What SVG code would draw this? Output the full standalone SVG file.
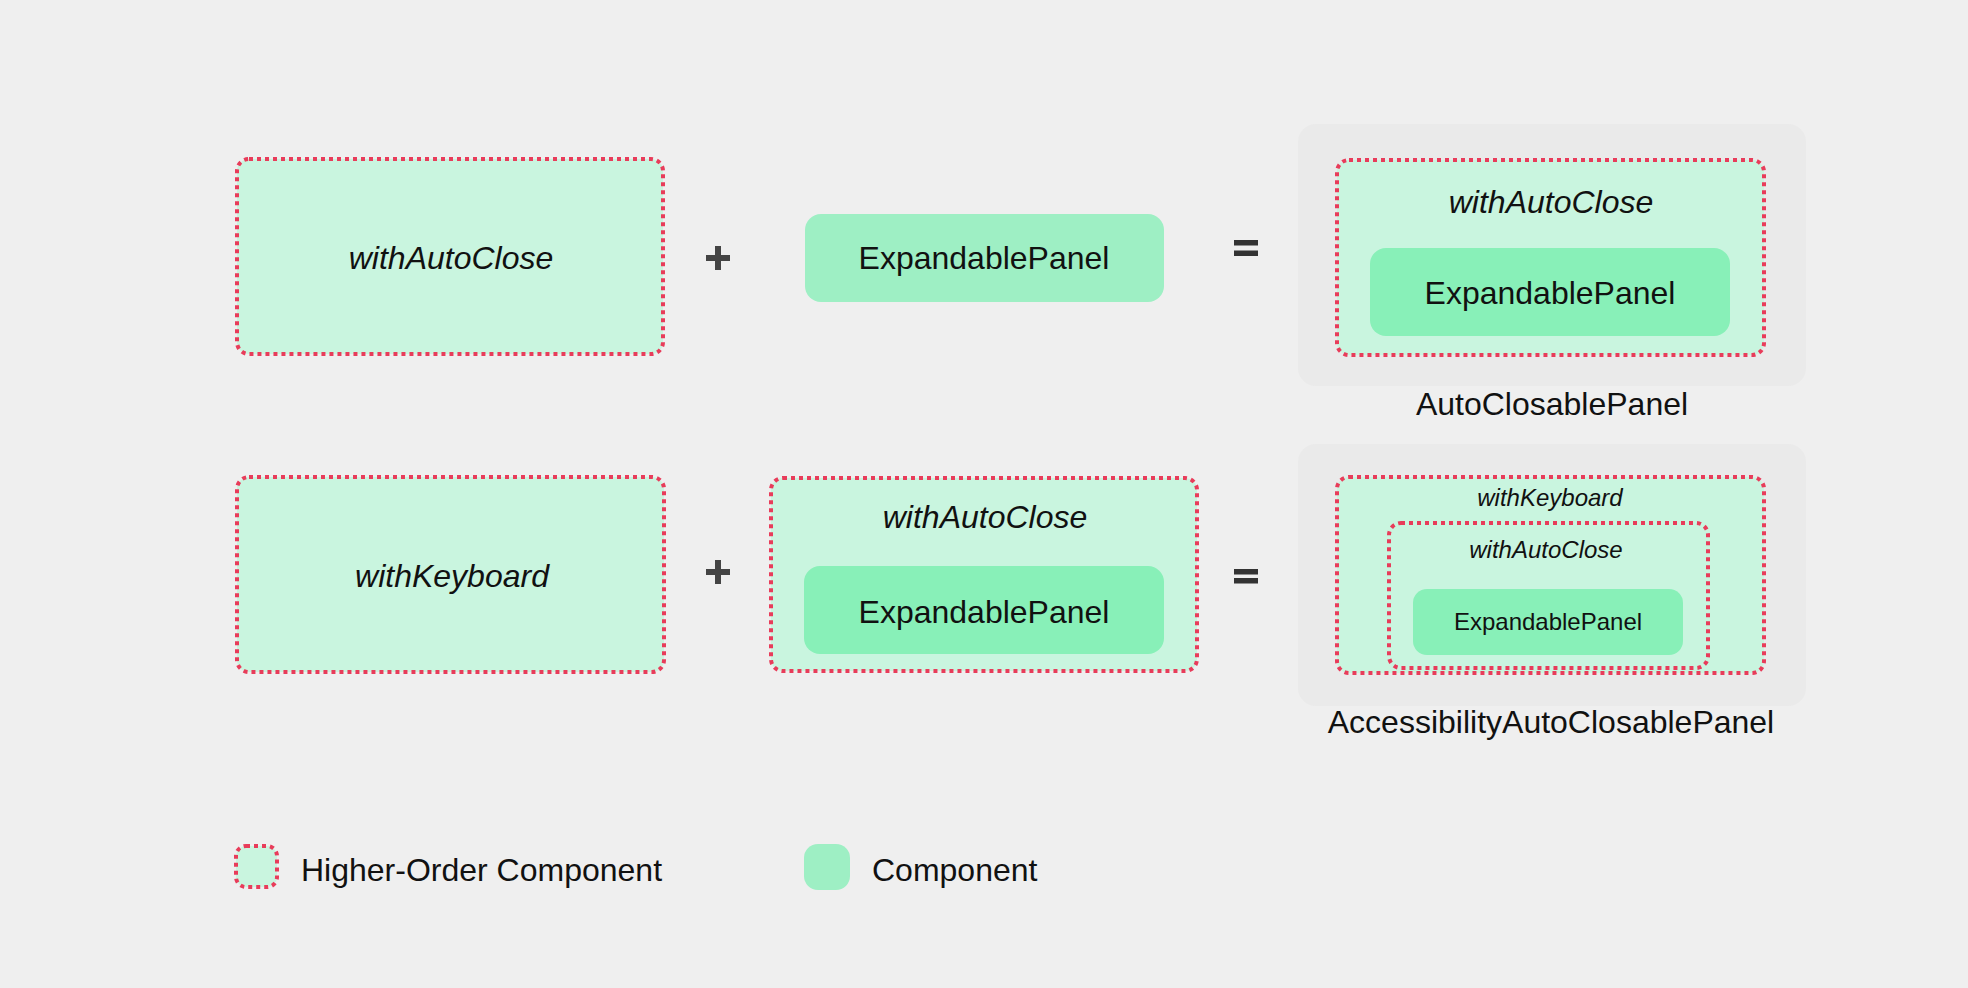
<svg xmlns="http://www.w3.org/2000/svg" width="1968" height="988" viewBox="0 0 1968 988">
<style>
.hoc{fill:#C9F5DF;stroke:#E83C5A;stroke-width:4;stroke-dasharray:4 4}
.comp{fill:#9EEFC4}
.comp2{fill:#88F0B8}
.cont{fill:#EAEAEA}
.t{font-family:"Liberation Sans",Arial,sans-serif;fill:#111;text-anchor:middle}
.i{font-style:italic}
.b{font-size:32px}
.s{font-size:24px}
.op{fill:#444}
.eq{fill:#333}
</style>
<rect width="1968" height="988" fill="#EFEFEF"/>
<g id="hoc-withAutoClose">
<rect class="hoc" x="237" y="159" width="426" height="195" rx="12"/>
<text class="t i b" x="451" y="269">withAutoClose</text>
</g>
<g id="plus-1"><rect class="op" x="706" y="255" width="24" height="6"/><rect class="op" x="715" y="246" width="6" height="24"/></g>
<g id="comp-ExpandablePanel">
<rect class="comp" x="805" y="214" width="359" height="88" rx="16"/>
<text class="t b" x="984" y="269">ExpandablePanel</text>
</g>
<g id="equals-1"><rect class="eq" x="1234" y="240" width="24" height="5.5"/><rect class="eq" x="1234" y="250.5" width="24" height="5.5"/></g>
<g id="result-AutoClosablePanel">
<rect class="cont" x="1298" y="124" width="508" height="262" rx="18"/>
<rect class="hoc" x="1337" y="160" width="427" height="195" rx="12"/>
<text class="t i b" x="1551" y="213">withAutoClose</text>
<rect class="comp2" x="1370" y="248" width="360" height="88" rx="16"/>
<text class="t b" x="1550" y="304">ExpandablePanel</text>
<text class="t b" x="1552" y="415">AutoClosablePanel</text>
</g>
<g id="hoc-withKeyboard">
<rect class="hoc" x="237" y="477" width="427" height="195" rx="12"/>
<text class="t i b" x="452" y="587">withKeyboard</text>
</g>
<g id="plus-2"><rect class="op" x="706" y="569" width="24" height="6"/><rect class="op" x="715" y="560" width="6" height="24"/></g>
<g id="hoc-withAutoClose-ExpandablePanel">
<rect class="hoc" x="771" y="478" width="426" height="193" rx="12"/>
<text class="t i b" x="985" y="528">withAutoClose</text>
<rect class="comp2" x="804" y="566" width="360" height="88" rx="16"/>
<text class="t b" x="984" y="623">ExpandablePanel</text>
</g>
<g id="equals-2"><rect class="eq" x="1234" y="569" width="24" height="5.5"/><rect class="eq" x="1234" y="578" width="24" height="5.5"/></g>
<g id="result-AccessibilityAutoClosablePanel">
<rect class="cont" x="1298" y="444" width="508" height="262" rx="18"/>
<rect class="hoc" x="1337" y="477" width="427" height="196" rx="12"/>
<text class="t i s" x="1550" y="506">withKeyboard</text>
<rect class="hoc" x="1389" y="523" width="319" height="145" rx="12"/>
<text class="t i s" x="1546" y="558">withAutoClose</text>
<rect class="comp2" x="1413" y="589" width="270" height="66" rx="14"/>
<text class="t s" x="1548" y="630">ExpandablePanel</text>
<text class="t b" x="1551" y="733">AccessibilityAutoClosablePanel</text>
</g>
<g id="legend-hoc">
<rect class="hoc" x="236" y="846" width="41" height="41" rx="10"/>
<text class="t b" x="301" y="881" style="text-anchor:start">Higher-Order Component</text>
</g>
<g id="legend-component">
<rect class="comp" x="804" y="844" width="46" height="46" rx="14"/>
<text class="t b" x="872" y="881" style="text-anchor:start">Component</text>
</g>
<g id="connectors"></g>
</svg>
